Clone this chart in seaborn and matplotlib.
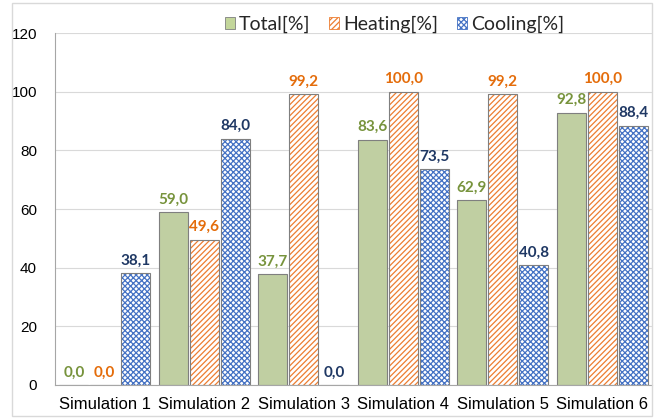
import pandas as pd
import numpy as np
import matplotlib.pyplot as plt
import seaborn as sns
from matplotlib.patches import Rectangle

# data
simulations = ['Simulation 1', 'Simulation 2', 'Simulation 3',
               'Simulation 4', 'Simulation 5', 'Simulation 6']
total = [0.0, 59.0, 37.7, 83.6, 62.9, 92.8]
heating = [0.0, 49.6, 99.2, 100.0, 99.2, 100.0]
cooling = [38.1, 84.0, 0.0, 73.5, 40.8, 88.4]
series = ['Total[%]', 'Heating[%]', 'Cooling[%]']

df = pd.DataFrame({'Simulation': simulations * 3,
                   'Series': np.repeat(series, len(simulations)),
                   'Value': total + heating + cooling})

face = {'Total[%]': '#C3D69B', 'Heating[%]': 'white', 'Cooling[%]': 'white'}
hatch_col = ['#C3D69B', '#ED7D31', '#4472C4']
hatches = [None, '//////', 'xxxxxx']
label_col = ['#77933C', '#E46C0A', '#1F3864']

sns.set_style('white')
plt.rcParams['hatch.linewidth'] = 0.9

fig = plt.figure(figsize=(6.67, 4.18), dpi=100)
ax = fig.add_axes([0.0825, 0.079, 0.895, 0.842])

sns.barplot(data=df, x='Simulation', y='Value', hue='Series',
            hue_order=series, palette=face, errorbar=None,
            width=0.93, gap=0.06, ax=ax, legend=False)

for i, cont in enumerate(ax.containers):
    for bar in cont:
        bar.set_edgecolor(hatch_col[i])
        bar.set_linewidth(0)
        if hatches[i]:
            bar.set_hatch(hatches[i])
        # grey outline on top of the hatch
        ax.add_patch(Rectangle(bar.get_xy(), bar.get_width(), bar.get_height(),
                               fill=False, edgecolor='#7F7F7F', linewidth=0.8,
                               zorder=bar.get_zorder() + 0.1))
    vals = [b.get_height() for b in cont]
    ax.bar_label(cont, labels=[f'{v:.1f}'.replace('.', ',') for v in vals],
                 padding=4, color=label_col[i], fontsize=11,
                 fontweight='bold', family='Lato')

ax.set_ylim(0, 120)
ax.set_xlim(-0.5, 5.5)
ax.set_yticks(range(0, 121, 20))
ax.yaxis.grid(True, color='#D9D9D9', linewidth=0.8)
ax.set_axisbelow(True)
ax.set_xlabel('')
ax.set_ylabel('')

for s in ['top', 'right']:
    ax.spines[s].set_visible(False)
for s in ['left', 'bottom']:
    ax.spines[s].set_color('#A6A6A6')
    ax.spines[s].set_linewidth(0.8)

ax.set_xticks(np.arange(-0.5, 6, 1), minor=True)
ax.tick_params(axis='x', which='major', length=0, labelsize=12, pad=9)
ax.tick_params(axis='x', which='minor', length=5, color='#A6A6A6', width=0.8)
ax.tick_params(axis='y', length=5, color='#A6A6A6', width=0.8, labelsize=11, pad=8)
for lab in ax.get_xticklabels() + ax.get_yticklabels():
    lab.set_family('Liberation Sans')
    lab.set_color('black')

# legend
handles = [Rectangle((0, 0), 1, 1, facecolor=face[s], edgecolor=hatch_col[i],
                     hatch=hatches[i], linewidth=0) for i, s in enumerate(series)]
for h in handles:
    h.set_edgecolor(h.get_edgecolor())
leg = fig.legend(handles, series, loc='center', bbox_to_anchor=(0.5915, 0.942),
                 ncol=3, frameon=False, handlelength=0.5, handleheight=0.55,
                 handletextpad=0.2, columnspacing=1.0,
                 prop={'family': 'Lato', 'size': 14})
for h in leg.legend_handles:
    h.set_linewidth(0.6)
leg.legend_handles[0].set_edgecolor('#7F7F7F')

# outer frame of the chart
fig.patches.append(Rectangle((0.018, 0.005), 0.959, 0.988, transform=fig.transFigure,
                             fill=False, edgecolor='#D9D9D9', linewidth=1))

fig.savefig('out.png', dpi=100)
